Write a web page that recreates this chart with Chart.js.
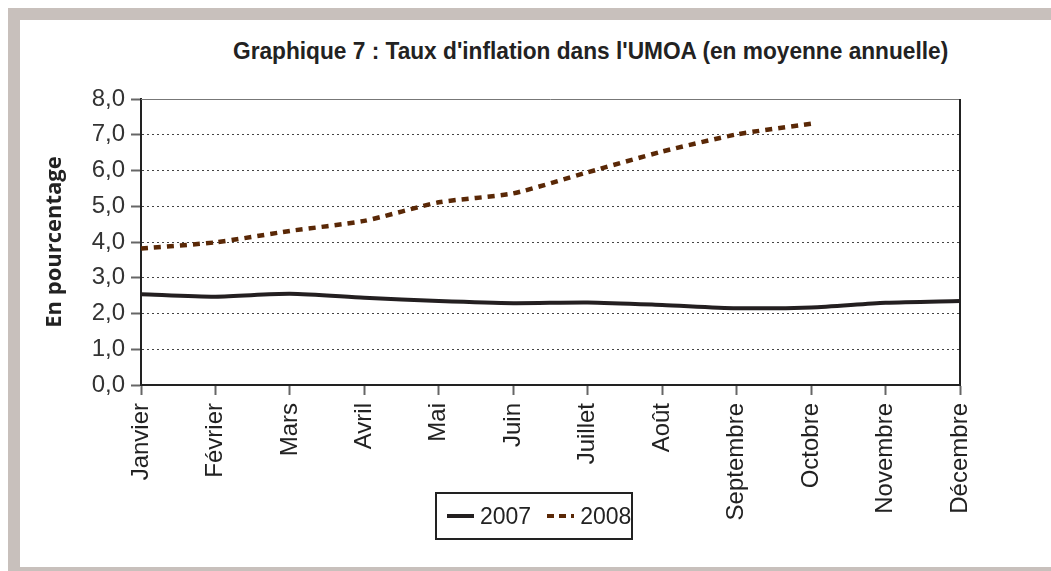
<!DOCTYPE html>
<html lang="fr">
<head>
    <meta charset="UTF-8">
    <title>Graphique 7</title>
    <script src="https://cdn.jsdelivr.net/npm/chart.js"></script>
    <style>
        body {
            margin: 0;
            background: #ffffff;
            font-family: 'Liberation Sans', sans-serif;
        }

        .page {
            position: relative;
            width: 1051px;
            height: 571px;
            overflow: hidden;
        }

        .band {
            position: absolute;
            background: #c8c0bc;
        }

        .chart-title {
            position: absolute;
            left: 233px;
            top: 37px;
            font-weight: bold;
            font-size: 24px;
            color: #222;
            white-space: nowrap;
            transform: scaleX(0.945);
            transform-origin: left top;
        }

        .legend {
            position: absolute;
            left: 435px;
            top: 492px;
            width: 194px;
            height: 44px;
            border: 2px solid #222;
            display: flex;
            align-items: center;
            font-size: 23px;
            color: #222;
        }

        .legend-item {
            display: flex;
            align-items: center;
            margin-left: 10px;
        }

        .legend-swatch {
            width: 27px;
            height: 4px;
            margin-right: 6px;
        }

        canvas {
            position: absolute;
            left: 0;
            top: 0;
        }
    </style>
</head>
<body>
    <div class="page">
        <div class="band" style="left:8px;top:8px;width:1043px;height:12px"></div>
        <div class="band" style="left:8px;top:8px;width:12px;height:563px"></div>
        <div class="band" style="left:8px;top:567px;width:1043px;height:4px"></div>
        <div class="chart-title">Graphique 7 : Taux d'inflation dans l'UMOA (en moyenne annuelle)</div>
        <canvas id="inflationChart" width="1051" height="571"></canvas>
        <div class="legend" id="legend"></div>
    </div>

    <script>
        const months = ['Janvier', 'Février', 'Mars', 'Avril', 'Mai', 'Juin',
            'Juillet', 'Août', 'Septembre', 'Octobre', 'Novembre', 'Décembre'];
        const inflation2007 = [2.54, 2.47, 2.55, 2.44, 2.35, 2.29, 2.31, 2.24, 2.15, 2.17, 2.30, 2.35];
        const inflation2008 = [3.82, 3.99, 4.31, 4.59, 5.11, 5.36, 5.95, 6.53, 7.01, 7.31, null, null];
        const yMin = 0;
        const yMax = 8;
        const yStep = 1;

        // frame: solid top line and right line around the plot
        const framePlugin = {
            id: 'frame',
            beforeDatasetsDraw(chart) {
                const { ctx, chartArea } = chart;
                ctx.save();
                ctx.lineWidth = 1;
                ctx.strokeStyle = '#777';
                ctx.beginPath();
                ctx.moveTo(chartArea.left, chartArea.top + 0.5);
                ctx.lineTo(chartArea.right, chartArea.top + 0.5);
                ctx.stroke();
                ctx.lineWidth = 2;
                ctx.strokeStyle = '#222';
                ctx.beginPath();
                ctx.moveTo(chartArea.right, chartArea.top);
                ctx.lineTo(chartArea.right, chartArea.bottom);
                ctx.stroke();
                ctx.restore();
            }
        };

        const ctx = document.getElementById('inflationChart').getContext('2d');
        const chart = new Chart(ctx, {
            type: 'line',
            data: {
                labels: months,
                datasets: [{
                    label: '2007',
                    data: inflation2007,
                    borderColor: '#231f20',
                    borderWidth: 4,
                    tension: 0.25,
                    pointRadius: 0
                }, {
                    label: '2008',
                    data: inflation2008,
                    borderColor: '#5a2806',
                    borderWidth: 4.5,
                    borderDash: [7, 6],
                    borderCapStyle: 'butt',
                    tension: 0.2,
                    pointRadius: 0
                }]
            },
            options: {
                responsive: false,
                animation: false,
                layout: {
                    padding: { left: 30, right: 91, top: 99, bottom: 26 }
                },
                plugins: {
                    legend: { display: false },
                    title: { display: false },
                    tooltip: { enabled: false }
                },
                scales: {
                    x: {
                        grid: {
                            drawOnChartArea: false,
                            tickLength: 10,
                            tickColor: '#666',
                            tickWidth: 2
                        },
                        border: { color: '#222', width: 2 },
                        ticks: {
                            autoSkip: false,
                            maxRotation: 90,
                            minRotation: 90,
                            padding: 8,
                            color: '#222',
                            font: { family: 'Liberation Sans', size: 24 }
                        },
                        afterFit(scale) { scale.height = 160; }
                    },
                    y: {
                        min: yMin,
                        max: yMax,
                        grid: {
                            color: '#444',
                            lineWidth: 1,
                            tickLength: 10,
                            tickColor: '#666',
                            tickWidth: 2,
                            tickBorderDash: []
                        },
                        border: { color: '#222', width: 2, dash: [2, 3] },
                        ticks: {
                            stepSize: yStep,
                            padding: 6,
                            color: '#333',
                            font: { family: 'Liberation Sans', size: 24 },
                            callback: value => value.toFixed(1).replace('.', ',')
                        },
                        title: {
                            display: true,
                            text: 'En pourcentage',
                            color: '#222',
                            padding: { top: 12, bottom: 0 },
                            font: { family: 'Open Sans', weight: 'bold', size: 22 }
                        },
                        afterFit(scale) { scale.width = 111; }
                    }
                }
            },
            plugins: [framePlugin]
        });

        // legend built from the datasets
        const legendEl = document.getElementById('legend');
        chart.data.datasets.forEach((ds, i) => {
            const item = document.createElement('div');
            item.className = 'legend-item';
            if (i > 0) item.style.marginLeft = '16px';
            const sw = document.createElement('span');
            sw.className = 'legend-swatch';
            if (ds.borderDash) {
                sw.style.background = `repeating-linear-gradient(90deg, ${ds.borderColor} 0 7px, transparent 7px 12px)`;
            } else {
                sw.style.background = ds.borderColor;
            }
            item.appendChild(sw);
            item.appendChild(document.createTextNode(ds.label));
            legendEl.appendChild(item);
        });
    </script>
</body>
</html>
